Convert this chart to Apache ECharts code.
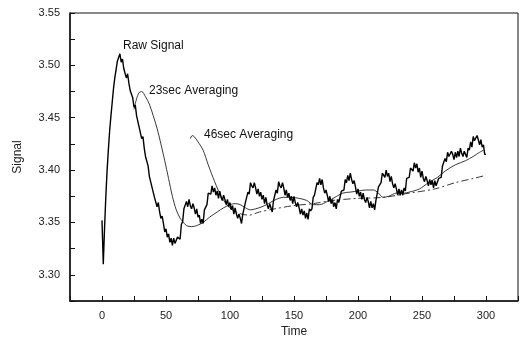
<!DOCTYPE html>
<html>
<head>
<meta charset="utf-8">
<script src="https://cdn.jsdelivr.net/npm/echarts@6/dist/echarts.min.js"></script>
<style>
html,body{margin:0;padding:0;background:#fff;}
#chart{width:522px;height:345px;}
</style>
</head>
<body>
<div id="chart"></div>
<script>
// ---- data ----
const rawStart = 0;   // seconds, first raw sample
const rawStep = 1;    // seconds between raw samples
const rawSignal = [
3.352,3.310,3.345,3.375,3.400,3.420,3.438,3.452,3.465,3.478,
3.488,3.496,3.504,3.503,3.511,3.503,3.506,3.497,3.498,3.488,
3.492,3.483,3.476,3.477,3.469,3.460,3.462,3.452,3.452,3.441,
3.441,3.430,3.432,3.421,3.413,3.413,3.404,3.394,3.395,3.384,
3.384,3.374,3.375,3.365,3.369,3.360,3.354,3.356,3.349,3.341,
3.344,3.336,3.339,3.331,3.335,3.328,3.335,3.330,3.329,3.336,
3.335,3.334,3.348,3.351,3.363,3.362,3.370,3.365,3.372,3.366,
3.363,3.368,3.364,3.358,3.363,3.355,3.357,3.349,3.353,3.349,
3.362,3.363,3.367,3.378,3.379,3.377,3.385,3.379,3.383,3.376,
3.380,3.373,3.380,3.374,3.371,3.376,3.372,3.367,3.372,3.365,
3.369,3.362,3.366,3.358,3.364,3.358,3.354,3.358,3.354,3.349,
3.358,3.358,3.369,3.369,3.379,3.377,3.388,3.385,3.383,3.388,
3.383,3.377,3.382,3.375,3.379,3.372,3.376,3.368,3.374,3.367,
3.363,3.368,3.364,3.360,3.371,3.371,3.381,3.378,3.389,3.385,
3.383,3.388,3.383,3.376,3.381,3.374,3.378,3.371,3.375,3.368,
3.375,3.369,3.365,3.369,3.364,3.358,3.363,3.357,3.361,3.354,
3.359,3.353,3.363,3.361,3.363,3.374,3.376,3.377,3.388,3.386,
3.392,3.386,3.391,3.383,3.378,3.381,3.376,3.370,3.375,3.368,
3.372,3.365,3.369,3.363,3.372,3.369,3.370,3.380,3.381,3.381,
3.391,3.388,3.395,3.390,3.397,3.391,3.387,3.390,3.384,3.377,
3.382,3.375,3.379,3.372,3.378,3.372,3.369,3.374,3.370,3.364,
3.370,3.364,3.368,3.362,3.371,3.370,3.384,3.385,3.388,3.397,
3.396,3.393,3.400,3.394,3.397,3.389,3.394,3.387,3.383,3.387,
3.382,3.376,3.382,3.376,3.381,3.376,3.383,3.380,3.392,3.391,
3.393,3.402,3.401,3.399,3.407,3.402,3.406,3.398,3.402,3.393,
3.399,3.392,3.389,3.394,3.390,3.385,3.391,3.386,3.390,3.383,
3.390,3.385,3.384,3.392,3.393,3.393,3.404,3.403,3.411,3.408,
3.417,3.413,3.412,3.418,3.415,3.410,3.417,3.412,3.418,3.413,
3.421,3.416,3.413,3.418,3.415,3.412,3.421,3.419,3.427,3.422,
3.432,3.428,3.427,3.433,3.429,3.424,3.429,3.422,3.424,3.415,
3.415
];
const avg23Time  = [25,27,29,31,34,37,40,43,46,49,52,55,58,61,63,66,70,74,79,84,90,95,100,104,108,112,116,120,125,130,136,142,148,154,160,165,170,176,182,188,194,200,206,212,216,219.5,224,230,236,240,248,255,262,268,276,284,290,295,298];
const avg23Value = [3.458,3.468,3.474,3.475,3.470,3.463,3.452,3.440,3.425,3.409,3.392,3.375,3.362,3.354,3.351,3.347,3.346,3.347,3.350,3.355,3.360,3.364,3.367,3.368,3.367,3.364,3.362,3.363,3.365,3.368,3.372,3.374,3.374,3.373,3.371,3.367,3.367,3.370,3.374,3.378,3.379,3.380,3.381,3.381,3.378,3.374,3.375,3.378,3.378,3.379,3.382,3.388,3.393,3.399,3.405,3.409,3.413,3.417,3.419];
const avg46Time  = [69,70.5,72,75,79,83,88,93,98,103,109,115,123,135,149,165,180,200,220,240,260,276,290,300];
const avg46Value = [3.430,3.433,3.432,3.427,3.419,3.405,3.389,3.375,3.366,3.361,3.358,3.357,3.360,3.363,3.366,3.368,3.371,3.373,3.374,3.378,3.382,3.388,3.392,3.395];
const avg46SolidUntil = 8; // index where the 46sec trace turns from solid to dashed
const xTickLabels = ['0','50','100','150','200','250','300'];
const yTickLabels = ['3.30','3.35','3.40','3.45','3.50','3.55'];
const seriesNames = ['Raw Signal','23sec Averaging','46sec Averaging'];

// ---- chart ----
const rawData = rawSignal.map((v, i) => [rawStart + i * rawStep, v]);
const avg23Data = avg23Time.map((t, i) => [t, avg23Value[i]]);
const avg46Data = avg46Time.map((t, i) => [t, avg46Value[i]]);

const FONT = '"Liberation Sans", Arial, sans-serif';
const chart = echarts.init(document.getElementById('chart'), null, {renderer: 'canvas'});
chart.setOption({
  animation: false,
  backgroundColor: '#fff',
  grid: {left: 70, right: 4, top: 13, bottom: 44, show: true, borderColor: '#111', borderWidth: 1},
  xAxis: {
    type: 'value', min: -25, max: 325, interval: 25,
    name: 'Time', nameLocation: 'middle', nameGap: 22,
    nameTextStyle: {fontFamily: FONT, fontSize: 12, color: '#222'},
    axisLine: {show: true, onZero: false, lineStyle: {color: '#111', width: 1.5}},
    axisTick: {show: true, inside: true, length: 5, lineStyle: {color: '#111'}},
    axisLabel: {
      fontFamily: FONT, fontSize: 11, color: '#222', margin: 9,
      formatter: v => { const s = String(Math.round(v)); return xTickLabels.includes(s) ? s : ''; }
    },
    splitLine: {show: false}
  },
  yAxis: {
    type: 'value', min: 3.275, max: 3.55, interval: 0.025,
    name: 'Signal', nameLocation: 'middle', nameGap: 46,
    nameTextStyle: {fontFamily: FONT, fontSize: 12, color: '#222'},
    axisLine: {show: true, onZero: false, lineStyle: {color: '#111', width: 1.5}},
    axisTick: {show: true, inside: true, length: 5, lineStyle: {color: '#111'}},
    axisLabel: {
      fontFamily: FONT, fontSize: 11, color: '#222', margin: 10,
      formatter: v => { const s = v.toFixed(2); return (yTickLabels.includes(s) && Math.abs(v * 20 - Math.round(v * 20)) < 1e-6) ? s : ''; }
    },
    splitLine: {show: false}
  },
  series: [
    {name: seriesNames[0], type: 'line', data: rawData, showSymbol: false, symbol: 'none',
     lineStyle: {color: '#000', width: 1.4}, z: 3},
    {name: seriesNames[1], type: 'line', data: avg23Data, showSymbol: false, symbol: 'none', smooth: 0.3,
     lineStyle: {color: '#222', width: 0.9}, z: 2},
    {name: seriesNames[2], type: 'line', data: avg46Data.slice(0, avg46SolidUntil + 1), showSymbol: false, symbol: 'none', smooth: 0.3,
     lineStyle: {color: '#222', width: 0.9}, z: 2},
    {name: seriesNames[2], type: 'line', data: avg46Data.slice(avg46SolidUntil), showSymbol: false, symbol: 'none', smooth: 0.3,
     lineStyle: {color: '#222', width: 0.9, type: [7, 3, 2, 3]}, z: 2}
  ],
  graphic: [
    {type: 'text', left: 123, top: 40, style: {text: seriesNames[0], font: '12px ' + FONT, fill: '#111'}},
    {type: 'text', left: 149, top: 85, style: {text: seriesNames[1], font: '12px ' + FONT, fill: '#111'}},
    {type: 'text', left: 204, top: 129, style: {text: seriesNames[2], font: '12px ' + FONT, fill: '#111'}}
  ]
});
</script>
</body>
</html>
